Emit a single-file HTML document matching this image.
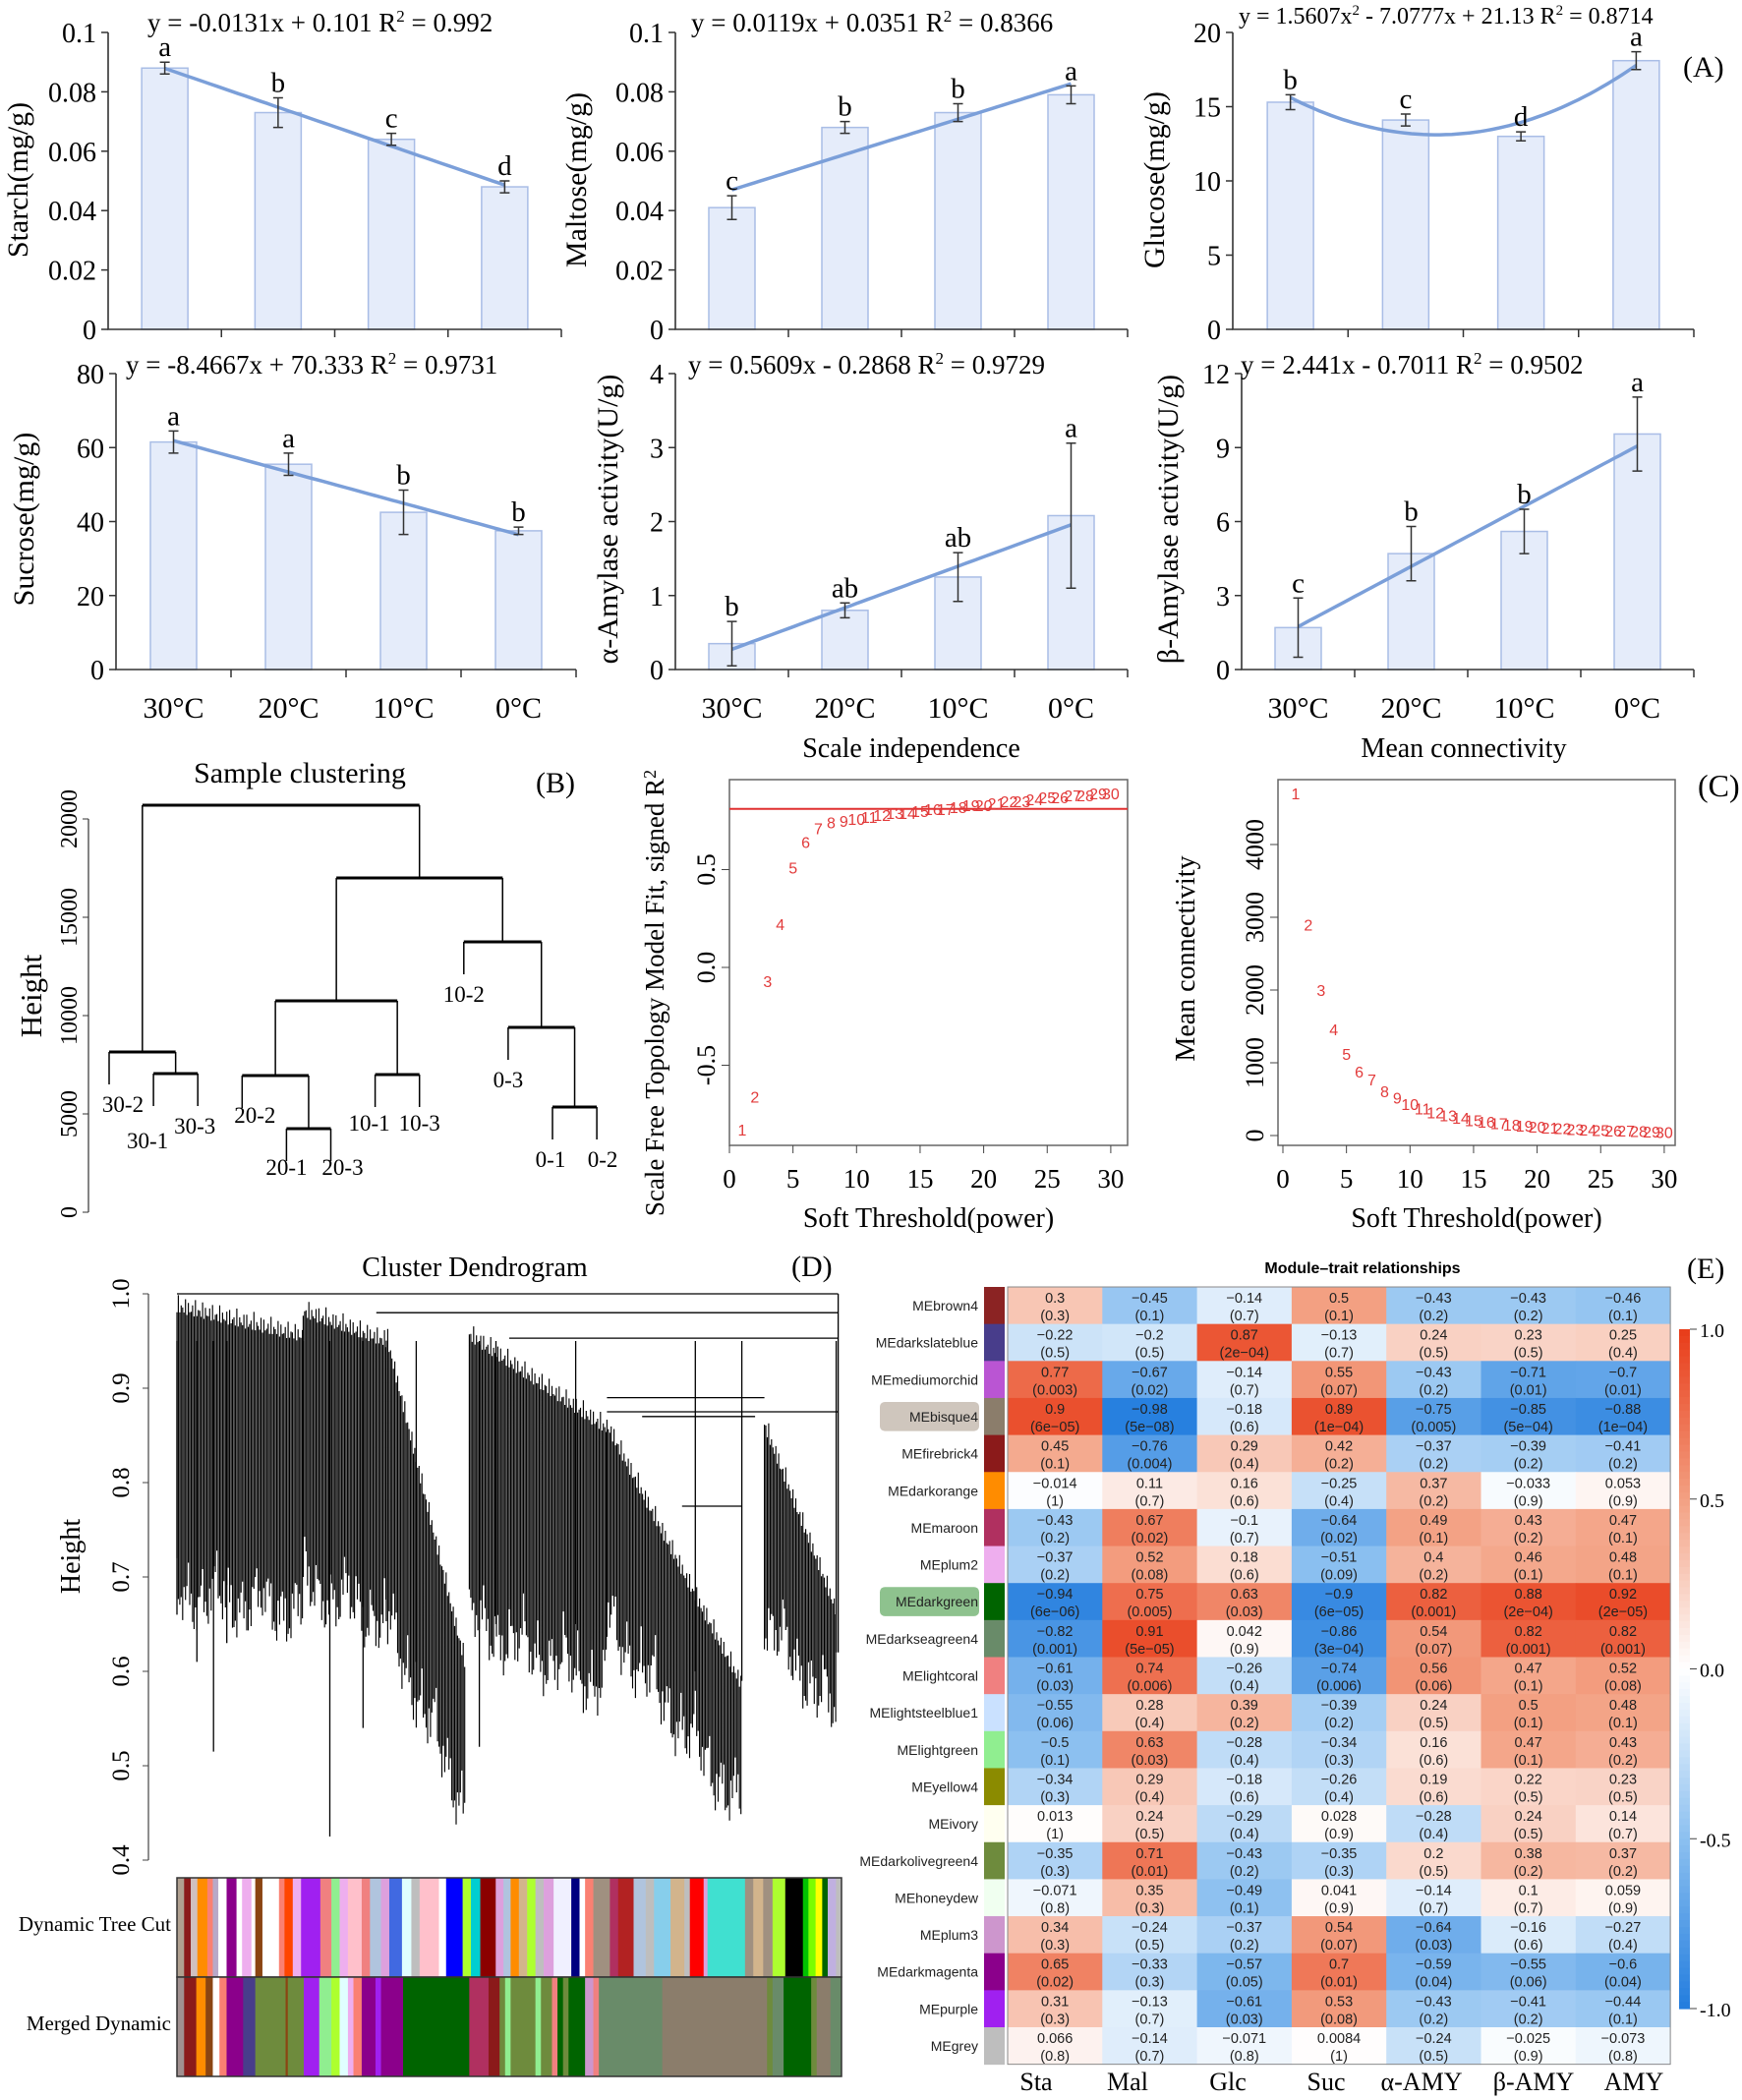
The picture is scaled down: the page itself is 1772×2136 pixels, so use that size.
<!DOCTYPE html>
<html><head><meta charset="utf-8"><style>
html,body{margin:0;padding:0;background:#fff;}
svg{display:block;}
text{font-family:"Liberation Serif",serif;}
.sans{font-family:"Liberation Sans",sans-serif;}
</style></head>
<body>
<svg id="fig" xmlns="http://www.w3.org/2000/svg" width="1772" height="2136" viewBox="0 0 1772 2136"></svg>
<script>
// ---------- Panel A data ----------
const tempCats = ['30°C','20°C','10°C','0°C'];
const starchVals = [0.088,0.073,0.064,0.048];
const starchErr = [0.002,0.005,0.002,0.002];
const starchLetters = ['a','b','c','d'];
const starchFit = [-0.0131,0.101];
const maltoseVals = [0.041,0.068,0.073,0.079];
const maltoseErr = [0.004,0.002,0.003,0.003];
const maltoseLetters = ['c','b','b','a'];
const maltoseFit = [0.0119,0.0351];
const glucoseVals = [15.3,14.1,13.0,18.1];
const glucoseErr = [0.5,0.4,0.3,0.6];
const glucoseLetters = ['b','c','d','a'];
const glucoseFit = [1.5607,-7.0777,21.13];
const sucroseVals = [61.5,55.5,42.5,37.5];
const sucroseErr = [3,3,6,1];
const sucroseLetters = ['a','a','b','b'];
const sucroseFit = [-8.4667,70.333];
const alphaVals = [0.35,0.8,1.25,2.08];
const alphaErr = [0.3,0.1,0.33,0.98];
const alphaLetters = ['b','ab','ab','a'];
const alphaFit = [0.5609,-0.2868];
const betaVals = [1.7,4.7,5.6,9.55];
const betaErr = [1.2,1.1,0.9,1.5];
const betaLetters = ['c','b','b','a'];
const betaFit = [2.441,-0.7011];
const starchTicks = ['0','0.02','0.04','0.06','0.08','0.1'];
const glucoseTicks = ['0','5','10','15','20'];
const sucroseTicks = ['0','20','40','60','80'];
const alphaTicks = ['0','1','2','3','4'];
const betaTicks = ['0','3','6','9','12'];

// ---------- Panel B data ----------
const sampleLabels = ['30-2','30-1','30-3','20-2','20-1','20-3','10-1','10-3','10-2','0-3','0-1','0-2'];
const sampleMerges = [[-5,-6,4250],[-11,-12,5350],[-2,-3,7050],[-7,-8,7000],[-4,1,6950],[-1,3,8150],[-10,2,9400],[-9,7,13750],[5,4,10750],[9,8,17000],[6,10,20700]];
const clusterTicks = [0,5000,10000,15000,20000];

// ---------- Panel C data ----------
const powers = [1,2,3,4,5,6,7,8,9,10,11,12,13,14,15,16,17,18,19,20,21,22,23,24,25,26,27,28,29,30];
const fitR2 = [-0.83,-0.66,-0.07,0.22,0.51,0.64,0.71,0.74,0.75,0.76,0.77,0.78,0.79,0.79,0.80,0.81,0.81,0.82,0.83,0.83,0.84,0.85,0.85,0.86,0.87,0.87,0.88,0.88,0.89,0.89];
const meanK = [4700,2900,2000,1460,1120,880,770,610,520,430,370,320,280,240,210,190,170,150,135,120,110,100,90,80,75,70,65,60,55,50];
const fitThreshold = 0.81;
const powerTicks = [0,5,10,15,20,25,30];
const r2Ticks = [-0.5,0.0,0.5];
const kTicks = [0,1000,2000,3000,4000];

// ---------- Panel D data ----------
const dendroTicks = [0.4,0.5,0.6,0.7,0.8,0.9,1.0];
// [fracStart, fracEnd, topHeight, bottomStart, bottomEnd, taper]
const dendroBlocks = [[0.0,0.19,1.0,0.76,0.74,0.15],[0.19,0.315,0.995,0.77,0.73,0.15],[0.315,0.435,0.97,0.73,0.53,1],[0.44,0.647,0.97,0.73,0.66,0.4],[0.647,0.85,0.875,0.73,0.53,1],[0.884,0.992,0.875,0.73,0.63,1]];
const dendroSparse = [[0.0,0.66],[0.03,0.61],[0.055,0.515],[0.075,0.63],[0.23,0.425],[0.19,0.7],[0.28,0.54],[0.36,0.61],[0.455,0.52],[0.48,0.65],[0.6,0.65],[0.78,0.6],[0.85,0.59],[0.992,0.62]];
const dendroLinks = [[1.0,0.0,0.995],[0.98,0.3,0.995],[0.953,0.5,0.995],[0.89,0.647,0.884],[0.875,0.647,0.995],[0.87,0.7,0.87],[0.775,0.76,0.85]];
const treeCutColors = [[320,'#b0a090'],[333,'#8b1a1a'],[345,'#d0c0c0'],[357,'#ff8c00'],[375,'#fa8072'],[385,'#b8a8c8'],[395,'#ffffff'],[410,'#8b008b'],[428,'#ffffff'],[438,'#eeaeee'],[455,'#ffffff'],[462,'#8b4513'],[475,'#ffffff'],[505,'#fa8072'],[515,'#ff4500'],[530,'#eeaeee'],[545,'#a020f0'],[580,'#f08080'],[600,'#90ee90'],[615,'#eeaeee'],[630,'#ffc0cb'],[655,'#f08080'],[670,'#b0c4de'],[690,'#dda0dd'],[705,'#4169e1'],[728,'#e0ffff'],[745,'#bebebe'],[760,'#ffc0cb'],[795,'#ffffff'],[808,'#0000ff'],[838,'#adff2f'],[853,'#00ced1'],[870,'#8b0000'],[898,'#dda0dd'],[912,'#b0c4de'],[925,'#ff8c00'],[940,'#d2b48c'],[955,'#adff2f'],[970,'#bebebe'],[985,'#dda0dd'],[1003,'#f0f0ff'],[1035,'#000080'],[1050,'#ffffff'],[1060,'#fa8072'],[1075,'#a09080'],[1105,'#b03060'],[1120,'#b22222'],[1148,'#b0c4de'],[1170,'#bebebe'],[1185,'#87ceeb'],[1215,'#d2b48c'],[1240,'#bebebe'],[1250,'#ff0000'],[1275,'#dda0dd'],[1282,'#40e0d0'],[1350,'#a09080'],[1365,'#d2b48c'],[1383,'#a09080'],[1400,'#adff2f'],[1423,'#000000'],[1455,'#00c000'],[1465,'#7cfc00'],[1478,'#ffff00'],[1490,'#006400'],[1500,'#c0b0e0'],[1515,'#bebebe'],[1525,'']];
const mergedColors = [[320,'#a09090'],[333,'#8b1a1a'],[355,'#ff8c00'],[372,'#8b4513'],[385,'#ffffff'],[397,'#fa8072'],[410,'#8b008b'],[440,'#483d8b'],[462,'#6e8b3d'],[517,'#8b4513'],[521,'#6e8b3d'],[550,'#a020f0'],[578,'#90ee90'],[600,'#adff2f'],[615,'#e0ffff'],[630,'#eeaeee'],[640,'#fa8072'],[655,'#8b008b'],[680,'#a020f0'],[690,'#8b008b'],[730,'#006400'],[850,'#b03060'],[885,'#8b1a1a'],[905,'#6e8b3d'],[915,'#90ee90'],[925,'#6e8b3d'],[970,'#90ee90'],[980,'#6e8b3d'],[1000,'#f08080'],[1010,'#006400'],[1020,'#6e8b3d'],[1030,'#006400'],[1060,'#cd96cd'],[1075,'#f08080'],[1085,'#698b69'],[1200,'#8b7d6b'],[1390,'#6e8b3d'],[1400,'#698b69'],[1420,'#006400'],[1470,'#6e8b3d'],[1480,'#8b7d6b'],[1505,'#698b69'],[1525,'']];

// ---------- Panel E data ----------
const moduleNames = ['MEbrown4','MEdarkslateblue','MEmediumorchid','MEbisque4','MEfirebrick4','MEdarkorange','MEmaroon','MEplum2','MEdarkgreen','MEdarkseagreen4','MElightcoral','MElightsteelblue1','MElightgreen','MEyellow4','MEivory','MEdarkolivegreen4','MEhoneydew','MEplum3','MEdarkmagenta','MEpurple','MEgrey'];
const moduleColors = ['#8b2323','#483d8b','#ba55d3','#8b7d6b','#8b1a1a','#ff8c00','#b03060','#eeaeee','#006400','#698b69','#f08080','#cae1ff','#90ee90','#8b8b00','#fffff0','#6e8b3d','#f0fff0','#cd96cd','#8b008b','#a020f0','#bebebe'];
const traitNames = ['Sta','Mal','Glc','Suc','α-AMY','β-AMY','AMY'];
const corrVals = [
[0.3,-0.45,-0.14,0.5,-0.43,-0.43,-0.46],
[-0.22,-0.2,0.87,-0.13,0.24,0.23,0.25],
[0.77,-0.67,-0.14,0.55,-0.43,-0.71,-0.7],
[0.9,-0.98,-0.18,0.89,-0.75,-0.85,-0.88],
[0.45,-0.76,0.29,0.42,-0.37,-0.39,-0.41],
[-0.014,0.11,0.16,-0.25,0.37,-0.033,0.053],
[-0.43,0.67,-0.1,-0.64,0.49,0.43,0.47],
[-0.37,0.52,0.18,-0.51,0.4,0.46,0.48],
[-0.94,0.75,0.63,-0.9,0.82,0.88,0.92],
[-0.82,0.91,0.042,-0.86,0.54,0.82,0.82],
[-0.61,0.74,-0.26,-0.74,0.56,0.47,0.52],
[-0.55,0.28,0.39,-0.39,0.24,0.5,0.48],
[-0.5,0.63,-0.28,-0.34,0.16,0.47,0.43],
[-0.34,0.29,-0.18,-0.26,0.19,0.22,0.23],
[0.013,0.24,-0.29,0.028,-0.28,0.24,0.14],
[-0.35,0.71,-0.43,-0.35,0.2,0.38,0.37],
[-0.071,0.35,-0.49,0.041,-0.14,0.1,0.059],
[0.34,-0.24,-0.37,0.54,-0.64,-0.16,-0.27],
[0.65,-0.33,-0.57,0.7,-0.59,-0.55,-0.6],
[0.31,-0.13,-0.61,0.53,-0.43,-0.41,-0.44],
[0.066,-0.14,-0.071,0.0084,-0.24,-0.025,-0.073]];
const pVals = [
['0.3','0.1','0.7','0.1','0.2','0.2','0.1'],
['0.5','0.5','2e-04','0.7','0.5','0.5','0.4'],
['0.003','0.02','0.7','0.07','0.2','0.01','0.01'],
['6e-05','5e-08','0.6','1e-04','0.005','5e-04','1e-04'],
['0.1','0.004','0.4','0.2','0.2','0.2','0.2'],
['1','0.7','0.6','0.4','0.2','0.9','0.9'],
['0.2','0.02','0.7','0.02','0.1','0.2','0.1'],
['0.2','0.08','0.6','0.09','0.2','0.1','0.1'],
['6e-06','0.005','0.03','6e-05','0.001','2e-04','2e-05'],
['0.001','5e-05','0.9','3e-04','0.07','0.001','0.001'],
['0.03','0.006','0.4','0.006','0.06','0.1','0.08'],
['0.06','0.4','0.2','0.2','0.5','0.1','0.1'],
['0.1','0.03','0.4','0.3','0.6','0.1','0.2'],
['0.3','0.4','0.6','0.4','0.6','0.5','0.5'],
['1','0.5','0.4','0.9','0.4','0.5','0.7'],
['0.3','0.01','0.2','0.3','0.5','0.2','0.2'],
['0.8','0.3','0.1','0.9','0.7','0.7','0.9'],
['0.3','0.5','0.2','0.07','0.03','0.6','0.4'],
['0.02','0.3','0.05','0.01','0.04','0.06','0.04'],
['0.3','0.7','0.03','0.08','0.2','0.2','0.1'],
['0.8','0.7','0.8','1','0.5','0.9','0.8']];
const colorbarTicks = ['1.0','0.5','0.0','-0.5','-1.0'];

const NS = 'http://www.w3.org/2000/svg';
const svg = document.getElementById('fig');
function el(tag, attrs, parent, txt) {
  const e = document.createElementNS(NS, tag);
  for (const k in attrs) e.setAttribute(k, attrs[k]);
  if (txt !== undefined) e.textContent = txt;
  (parent || svg).appendChild(e);
  return e;
}
function grp(parent) { return el('g', {}, parent); }

// ---------------- PANEL A ----------------
function barChart(cfg) {
  const g = grp();
  
  
  const band = (cfg.right - cfg.axisX) / cfg.vals.length;
  const xc = i => cfg.axisX + band * (i + 0.5);
  const ys = v => cfg.zero - (v / cfg.max) * (cfg.zero - cfg.top);
  cfg.vals.forEach((v, i) => {
    const b = el('rect', {x: xc(i) - 23.5, y: ys(v), width: 47, height: cfg.zero - ys(v), fill: '#e5ecfa', stroke: '#a9bde6', 'stroke-width': 1.5}, g);
    
    
  });
  let pts = [];
  const n = cfg.vals.length;
  for (let s = 0; s <= 60; s++) {
    const x = 1 + (n - 1) * s / 60;
    const f = cfg.fit;
    const v = f.length === 3 ? f[0]*x*x + f[1]*x + f[2] : f[0]*x + f[1];
    pts.push((xc(0) + (x - 1) * band).toFixed(1) + ',' + ys(v).toFixed(1));
  }
  const tl = el('polyline', {points: pts.join(' '), fill: 'none', stroke: '#7b9fd9', 'stroke-width': 3.5}, g);
  
  
  cfg.vals.forEach((v, i) => {
    const x = xc(i), y1 = ys(v + cfg.err[i]), y2 = ys(v - cfg.err[i]);
    const eb = el('path', {d: `M${x},${y1}V${y2}M${x-5},${y1}H${x+5}M${x-5},${y2}H${x+5}`, stroke: '#333', 'stroke-width': 1.5, fill: 'none'}, g);
    
    
    const lt = el('text', {x: x, y: y1 - 6, 'font-size': 29, 'text-anchor': 'middle'}, g, cfg.letters[i]);
    
    
  });
  const ax = el('path', {d: `M${cfg.axisX},${cfg.top}V${cfg.zero}H${cfg.right}`, stroke: '#333', 'stroke-width': 1.6, fill: 'none'}, g);
  
  
  cfg.ticks.forEach((t, i) => {
    const y = cfg.zero - (cfg.zero - cfg.top) * i / (cfg.ticks.length - 1);
    el('line', {x1: cfg.axisX - 7, x2: cfg.axisX, y1: y, y2: y, stroke: '#333', 'stroke-width': 1.5}, g);
    const tt = el('text', {x: cfg.axisX - 12, y: y + 10, 'font-size': 28, 'text-anchor': 'end'}, g, t);
    
    
  });
  for (let i = 1; i <= n; i++) {
    const x = cfg.axisX + band * i;
    el('line', {x1: x, x2: x, y1: cfg.zero, y2: cfg.zero + 8, stroke: '#333', 'stroke-width': 1.5}, g);
  }
  if (cfg.xlabels) {
    tempCats.forEach((c, i) => {
      const xt = el('text', {x: xc(i), y: 730, 'font-size': 30, 'text-anchor': 'middle'}, g, c);
      
      
    });
  }
  const yt = el('text', {x: 0, y: 0, 'font-size': 30, 'text-anchor': 'middle', transform: `translate(${cfg.titleX},${cfg.titleY}) rotate(-90)`}, g, cfg.title);
  
  
  const eq = el('text', {x: cfg.eqX, y: cfg.eqY, 'font-size': cfg.eqSize || 27}, g);
  eq.innerHTML = cfg.eq;
  
  
}
const R1T = 33, R1Z = 335, R2T = 380, R2Z = 681;
barChart({name:'starch-chart', axisX:110, right:571, top:R1T, zero:R1Z, max:0.1, vals:starchVals, err:starchErr, letters:starchLetters, fit:starchFit, ticks:starchTicks, title:'Starch(mg/g)', titleX:28, titleY:183, eqX:150, eqY:32, eq:'y = -0.0131x + 0.101  R<tspan dy="-10" font-size="17">2</tspan><tspan dy="10"> = 0.992</tspan>'});
barChart({name:'maltose-chart', axisX:687, right:1147, top:R1T, zero:R1Z, max:0.1, vals:maltoseVals, err:maltoseErr, letters:maltoseLetters, fit:maltoseFit, ticks:starchTicks, title:'Maltose(mg/g)', titleX:596, titleY:183, eqX:703, eqY:32, eq:'y = 0.0119x + 0.0351   R<tspan dy="-10" font-size="17">2</tspan><tspan dy="10"> = 0.8366</tspan>'});
barChart({name:'glucose-chart', axisX:1254, right:1723, top:R1T, zero:R1Z, max:20, vals:glucoseVals, err:glucoseErr, letters:glucoseLetters, fit:glucoseFit, ticks:glucoseTicks, title:'Glucose(mg/g)', titleX:1184, titleY:183, eqX:1260, eqY:24, eqSize:24, eq:'y = 1.5607x<tspan dy="-9" font-size="15">2</tspan><tspan dy="9"> - 7.0777x + 21.13  R</tspan><tspan dy="-9" font-size="15">2</tspan><tspan dy="9"> = 0.8714</tspan>'});
barChart({name:'sucrose-chart', axisX:118, right:586, top:R2T, zero:R2Z, max:80, vals:sucroseVals, err:sucroseErr, letters:sucroseLetters, fit:sucroseFit, ticks:sucroseTicks, title:'Sucrose(mg/g)', titleX:34, titleY:528, eqX:128, eqY:380, xlabels:true, eq:'y = -8.4667x + 70.333   R<tspan dy="-10" font-size="17">2</tspan><tspan dy="10"> = 0.9731</tspan>'});
barChart({name:'alpha-amylase-chart', axisX:687, right:1147, top:R2T, zero:R2Z, max:4, vals:alphaVals, err:alphaErr, letters:alphaLetters, fit:alphaFit, ticks:alphaTicks, title:'α-Amylase activity(U/g)', titleX:628, titleY:528, eqX:700, eqY:380, xlabels:true, eq:'y = 0.5609x - 0.2868   R<tspan dy="-10" font-size="17">2</tspan><tspan dy="10"> = 0.9729</tspan>'});
barChart({name:'beta-amylase-chart', axisX:1263, right:1723, top:R2T, zero:R2Z, max:12, vals:betaVals, err:betaErr, letters:betaLetters, fit:betaFit, ticks:betaTicks, title:'β-Amylase activity(U/g)', titleX:1198, titleY:528, eqX:1262, eqY:380, xlabels:true, eq:'y = 2.441x - 0.7011   R<tspan dy="-10" font-size="17">2</tspan><tspan dy="10"> = 0.9502</tspan>'});
const labA = el('text', {x: 1712, y: 78, 'font-size': 30}, svg, '(A)');



// ---------------- PANEL B ----------------
(function () {
  const g = grp();
  
  
  const yH = h => 1233 - h * 0.02;
  const leafX = i => 111 + i * 45.1;
  const hang = 1650;
  const labDx = [14,-6,-3,13,0,12,-6,0,0,0,-2,6];
  const labDy = [0,15,0,-13,-14,-14,-4,-4,0,0,0,0];
  const mx = [], mh = [];
  const pos = c => c < 0 ? leafX(-c - 1) : mx[c - 1];
  sampleMerges.forEach((m, k) => {
    const xa = pos(m[0]), xb = pos(m[1]);
    mx.push((xa + xb) / 2); mh.push(m[2]);
    el('line', {x1: xa, x2: xb, y1: yH(m[2]), y2: yH(m[2]), stroke: '#000', 'stroke-width': 3}, g);
    [m[0], m[1]].forEach(c => {
      const x = pos(c);
      const yEnd = c < 0 ? yH(m[2] - hang) : yH(mh[c - 1]);
      el('line', {x1: x, x2: x, y1: yH(m[2]), y2: yEnd, stroke: '#000', 'stroke-width': 1.5}, g);
      if (c < 0) {
        const li = -c - 1;
        const t = el('text', {x: x + labDx[li], y: yEnd + 28 + labDy[li], 'font-size': 23, 'text-anchor': 'middle'}, g, sampleLabels[li]);
        
        
      }
    });
  });
  el('line', {x1: 90, x2: 90, y1: yH(20000), y2: yH(0), stroke: '#333', 'stroke-width': 1.2}, g);
  clusterTicks.forEach(v => {
    el('line', {x1: 84, x2: 90, y1: yH(v), y2: yH(v), stroke: '#333'}, g);
    const t = el('text', {x: 0, y: 0, 'font-size': 24, 'text-anchor': 'middle', transform: `translate(78,${yH(v)}) rotate(-90)`}, g, String(v));
    
    
  });
  const yl = el('text', {x: 0, y: 0, 'font-size': 31, 'text-anchor': 'middle', transform: 'translate(42,1013) rotate(-90)'}, g, 'Height');
  
  
  const tt = el('text', {x: 305, y: 796, 'font-size': 30, 'text-anchor': 'middle'}, g, 'Sample clustering');
  
  
  const lb = el('text', {x: 545, y: 806, 'font-size': 30}, g, '(B)');
  
  
})();

// ---------------- PANEL C ----------------
function scatterPanel(cfg) {
  const g = grp();
  
  
  const xs = p => cfg.x0 + p * 12.93;
  const ys = v => cfg.yZero - v * cfg.yScale;
  const box = el('rect', {x: cfg.bx0, y: 793, width: cfg.bx1 - cfg.bx0, height: 372, fill: 'none', stroke: '#666', 'stroke-width': 1.5}, g);
  
  
  powerTicks.forEach(p => {
    el('line', {x1: xs(p), x2: xs(p), y1: 1165, y2: 1173, stroke: '#444'}, g);
    const t = el('text', {x: xs(p), y: 1208, 'font-size': 27, 'text-anchor': 'middle'}, g, String(p));
    
    
  });
  cfg.yTicks.forEach(v => {
    el('line', {x1: cfg.bx0 - 8, x2: cfg.bx0, y1: ys(v), y2: ys(v), stroke: '#444'}, g);
    const t = el('text', {x: 0, y: 0, 'font-size': 26, 'text-anchor': 'middle', transform: `translate(${cfg.bx0 - 15},${ys(v)}) rotate(-90)`}, g, cfg.fmt(v));
    
    
  });
  if (cfg.hline !== undefined) {
    const hl = el('line', {x1: cfg.bx0, x2: cfg.bx1, y1: ys(cfg.hline), y2: ys(cfg.hline), stroke: '#e03030', 'stroke-width': 2}, g);
    
    
  }
  cfg.vals.forEach((v, i) => {
    const t = el('text', {x: xs(powers[i]), y: ys(v) + 6, 'font-size': 16, 'text-anchor': 'middle', fill: '#e23a3a', class: 'sans'}, g, String(powers[i]));
    
    
  });
  const ti = el('text', {x: cfg.titleX, y: 770, 'font-size': 28, 'text-anchor': 'middle'}, g, cfg.title);
  
  
  const xl = el('text', {x: (cfg.bx0 + cfg.bx1) / 2, y: 1248, 'font-size': 28, 'text-anchor': 'middle'}, g, 'Soft Threshold(power)');
  
  
  const yl = el('text', {x: 0, y: 0, 'font-size': cfg.ylSize, 'text-anchor': 'middle', transform: `translate(${cfg.ylX},${cfg.ylY}) rotate(-90)`}, g);
  yl.innerHTML = cfg.ylabel;
  
  
}
scatterPanel({name:'scale-independence-chart', x0:742, bx0:742, bx1:1147, yZero:984, yScale:199, yTicks:r2Ticks, fmt:v=>v.toFixed(1), hline:fitThreshold, vals:fitR2, title:'Scale independence', titleX:927, ylX:675, ylY:1010, ylSize:27, ylabel:'Scale Free Topology Model Fit, signed R<tspan dy="-8" font-size="18">2</tspan>'});
scatterPanel({name:'mean-connectivity-chart', x0:1305, bx0:1300, bx1:1704, yZero:1155, yScale:0.074, yTicks:kTicks, fmt:v=>String(v), vals:meanK, title:'Mean connectivity', titleX:1489, ylX:1215, ylY:975, ylSize:28, ylabel:'Mean connectivity'});
const labC = el('text', {x: 1727, y: 810, 'font-size': 32}, svg, '(C)');



// ---------------- PANEL D ----------------
(function () {
  const g = grp();
  
  
  const X0 = 180, W = 676;
  const xf = f => X0 + f * W;
  const yh = h => 1316 + (1 - h) * 960;
  let d = '';
  dendroBlocks.forEach((b, bi) => {
    const x0 = xf(b[0]), x1 = xf(b[1]);
    for (let x = x0; x <= x1; x += 1.45) {
      const t = (x - x0) / (x1 - x0 || 1);
      const base = b[3] + (b[4] - b[3]) * t;
      const wig = 0.05 * Math.abs(Math.sin(x * 0.23 + bi)) + 0.04 * Math.abs(Math.sin(x * 1.31)) + 0.03 * Math.abs(Math.sin(x * 0.071));
      const top = b[2] - b[5] * t * (b[2] - b[4]) * 0.8 - 0.02 * Math.abs(Math.sin(x * 0.9));
      d += `M${x.toFixed(1)},${yh(top).toFixed(1)}V${yh(base - wig).toFixed(1)}`;
    }
  });
  const dense = el('path', {d: d, stroke: '#000', 'stroke-width': 1.15, fill: 'none'}, g);
  
  
  let s = '';
  dendroSparse.forEach(p => { s += `M${xf(p[0]).toFixed(1)},${yh(0.95)}V${yh(p[1]).toFixed(1)}`; });
  dendroLinks.forEach(l => { s += `M${xf(l[1]).toFixed(1)},${yh(l[0]).toFixed(1)}H${xf(l[2]).toFixed(1)}`; });
  s += `M${xf(0.995)},${yh(1.0)}V${yh(0.62)}`;
  const sp = el('path', {d: s, stroke: '#000', 'stroke-width': 1.3, fill: 'none'}, g);
  
  
  el('line', {x1: 151, x2: 151, y1: yh(1.0), y2: yh(0.4), stroke: '#444', 'stroke-width': 1.2}, g);
  dendroTicks.forEach(v => {
    el('line', {x1: 145, x2: 151, y1: yh(v), y2: yh(v), stroke: '#444'}, g);
    const t = el('text', {x: 0, y: 0, 'font-size': 25, 'text-anchor': 'middle', transform: `translate(131,${yh(v)}) rotate(-90)`}, g, v.toFixed(1));
    
    
  });
  const yl = el('text', {x: 0, y: 0, 'font-size': 28, 'text-anchor': 'middle', transform: 'translate(81,1583) rotate(-90)'}, g, 'Height');
  
  
  const tt = el('text', {x: 483, y: 1298, 'font-size': 28, 'text-anchor': 'middle'}, g, 'Cluster Dendrogram');
  
  
  const lb = el('text', {x: 805, y: 1298, 'font-size': 30}, g, '(D)');
  
  
  const zx = z => (z - 320) / 1205 * W + X0;
  function colorRow(arr, y0, h, nm) {
    const rg = grp(g);
    
    
    for (let i = 0; i < arr.length - 1; i++) {
      el('rect', {x: zx(arr[i][0]), y: y0, width: zx(arr[i + 1][0]) - zx(arr[i][0]) + 0.4, height: h, fill: arr[i][1]}, rg);
    }
    el('rect', {x: X0, y: y0, width: W, height: h, fill: 'none', stroke: '#333', 'stroke-width': 1.5}, rg);
  }
  colorRow(treeCutColors, 1910, 101, 'dynamic-tree-cut-colors');
  colorRow(mergedColors, 2011, 101, 'merged-dynamic-colors');
  const l1 = el('text', {x: 174, y: 1964, 'font-size': 21, 'text-anchor': 'end'}, g, 'Dynamic Tree Cut');
  
  
  const l2 = el('text', {x: 174, y: 2065, 'font-size': 21, 'text-anchor': 'end'}, g, 'Merged Dynamic');
  
  
})();

// ---------------- PANEL E ----------------
(function () {
  const g = grp();
  
  
  const HX = 1025, HY = 1309, CW = 96.3, RH = 37.65;
  function col(v) {
    const lerp = (a, b, t) => a.map((c, i) => Math.round(c + (b[i] - c) * t));
    let c;
    if (v >= 0) c = v < 0.5 ? lerp([255,255,255],[243,160,130],v/0.5) : lerp([243,160,130],[232,60,25],(v-0.5)/0.5);
    else { const a = -v; c = a < 0.5 ? lerp([255,255,255],[140,192,240],a/0.5) : lerp([140,192,240],[35,125,222],(a-0.5)/0.5); }
    return `rgb(${c[0]},${c[1]},${c[2]})`;
  }
  corrVals.forEach((row, r) => {
    row.forEach((v, c) => {
      const cell = el('rect', {x: HX + c * CW, y: HY + r * RH, width: CW + 0.5, height: RH + 0.5, fill: col(v)}, g);
      
      
      const cx = HX + (c + 0.5) * CW, cy = HY + r * RH;
      el('text', {x: cx, y: cy + 16, 'font-size': 14.5, 'text-anchor': 'middle', fill: '#222', class: 'sans'}, g, String(v).replace('-', '−'));
      el('text', {x: cx, y: cy + 34, 'font-size': 14.5, 'text-anchor': 'middle', fill: '#222', class: 'sans'}, g, '(' + pVals[r][c].replace('-', '−') + ')');
    });
    const sw = el('rect', {x: 1001, y: HY + r * RH, width: 21, height: RH + 0.5, fill: moduleColors[r]}, g);
    
    
    if (moduleNames[r] === 'MEbisque4' || moduleNames[r] === 'MEdarkgreen') {
      el('rect', {x: 895, y: HY + r * RH + 4, width: 101, height: RH - 8, rx: 5, fill: moduleNames[r] === 'MEbisque4' ? '#cfc6bd' : '#8ec28e'}, g);
    }
    const lt = el('text', {x: 995, y: HY + r * RH + 24, 'font-size': 14, 'text-anchor': 'end', fill: '#222', class: 'sans'}, g, moduleNames[r]);
    
    
  });
  el('rect', {x: HX, y: HY, width: CW * 7, height: RH * 21, fill: 'none', stroke: '#888', 'stroke-width': 1}, g);
  const labX = [1054, 1147, 1249, 1349, 1446, 1560, 1662];
  traitNames.forEach((t, i) => {
    const tx = el('text', {x: labX[i], y: 2126, 'font-size': 26, 'text-anchor': 'middle'}, g, t);
    
    
  });
  const ti = el('text', {x: 1386, y: 1295, 'font-size': 16, 'font-weight': 'bold', 'text-anchor': 'middle', class: 'sans'}, g, 'Module–trait relationships');
  
  
  const lb = el('text', {x: 1716, y: 1300, 'font-size': 30}, g, '(E)');
  
  
  const cb = grp(g);
  
  
  const top = 1352, bot = 2043;
  for (let i = 0; i < 100; i++) {
    const v = 1 - 2 * (i + 0.5) / 100;
    el('rect', {x: 1708, y: top + (bot - top) * i / 100, width: 11, height: (bot - top) / 100 + 0.6, fill: col(v)}, cb);
  }
  colorbarTicks.forEach((t, i) => {
    const y = top + (bot - top) * i / 4;
    el('line', {x1: 1719, x2: 1726, y1: y, y2: y, stroke: '#444'}, cb);
    const tt = el('text', {x: 1729, y: y + 8, 'font-size': 20}, cb, t);
    
    
  });
})();
</script>
</body></html>
